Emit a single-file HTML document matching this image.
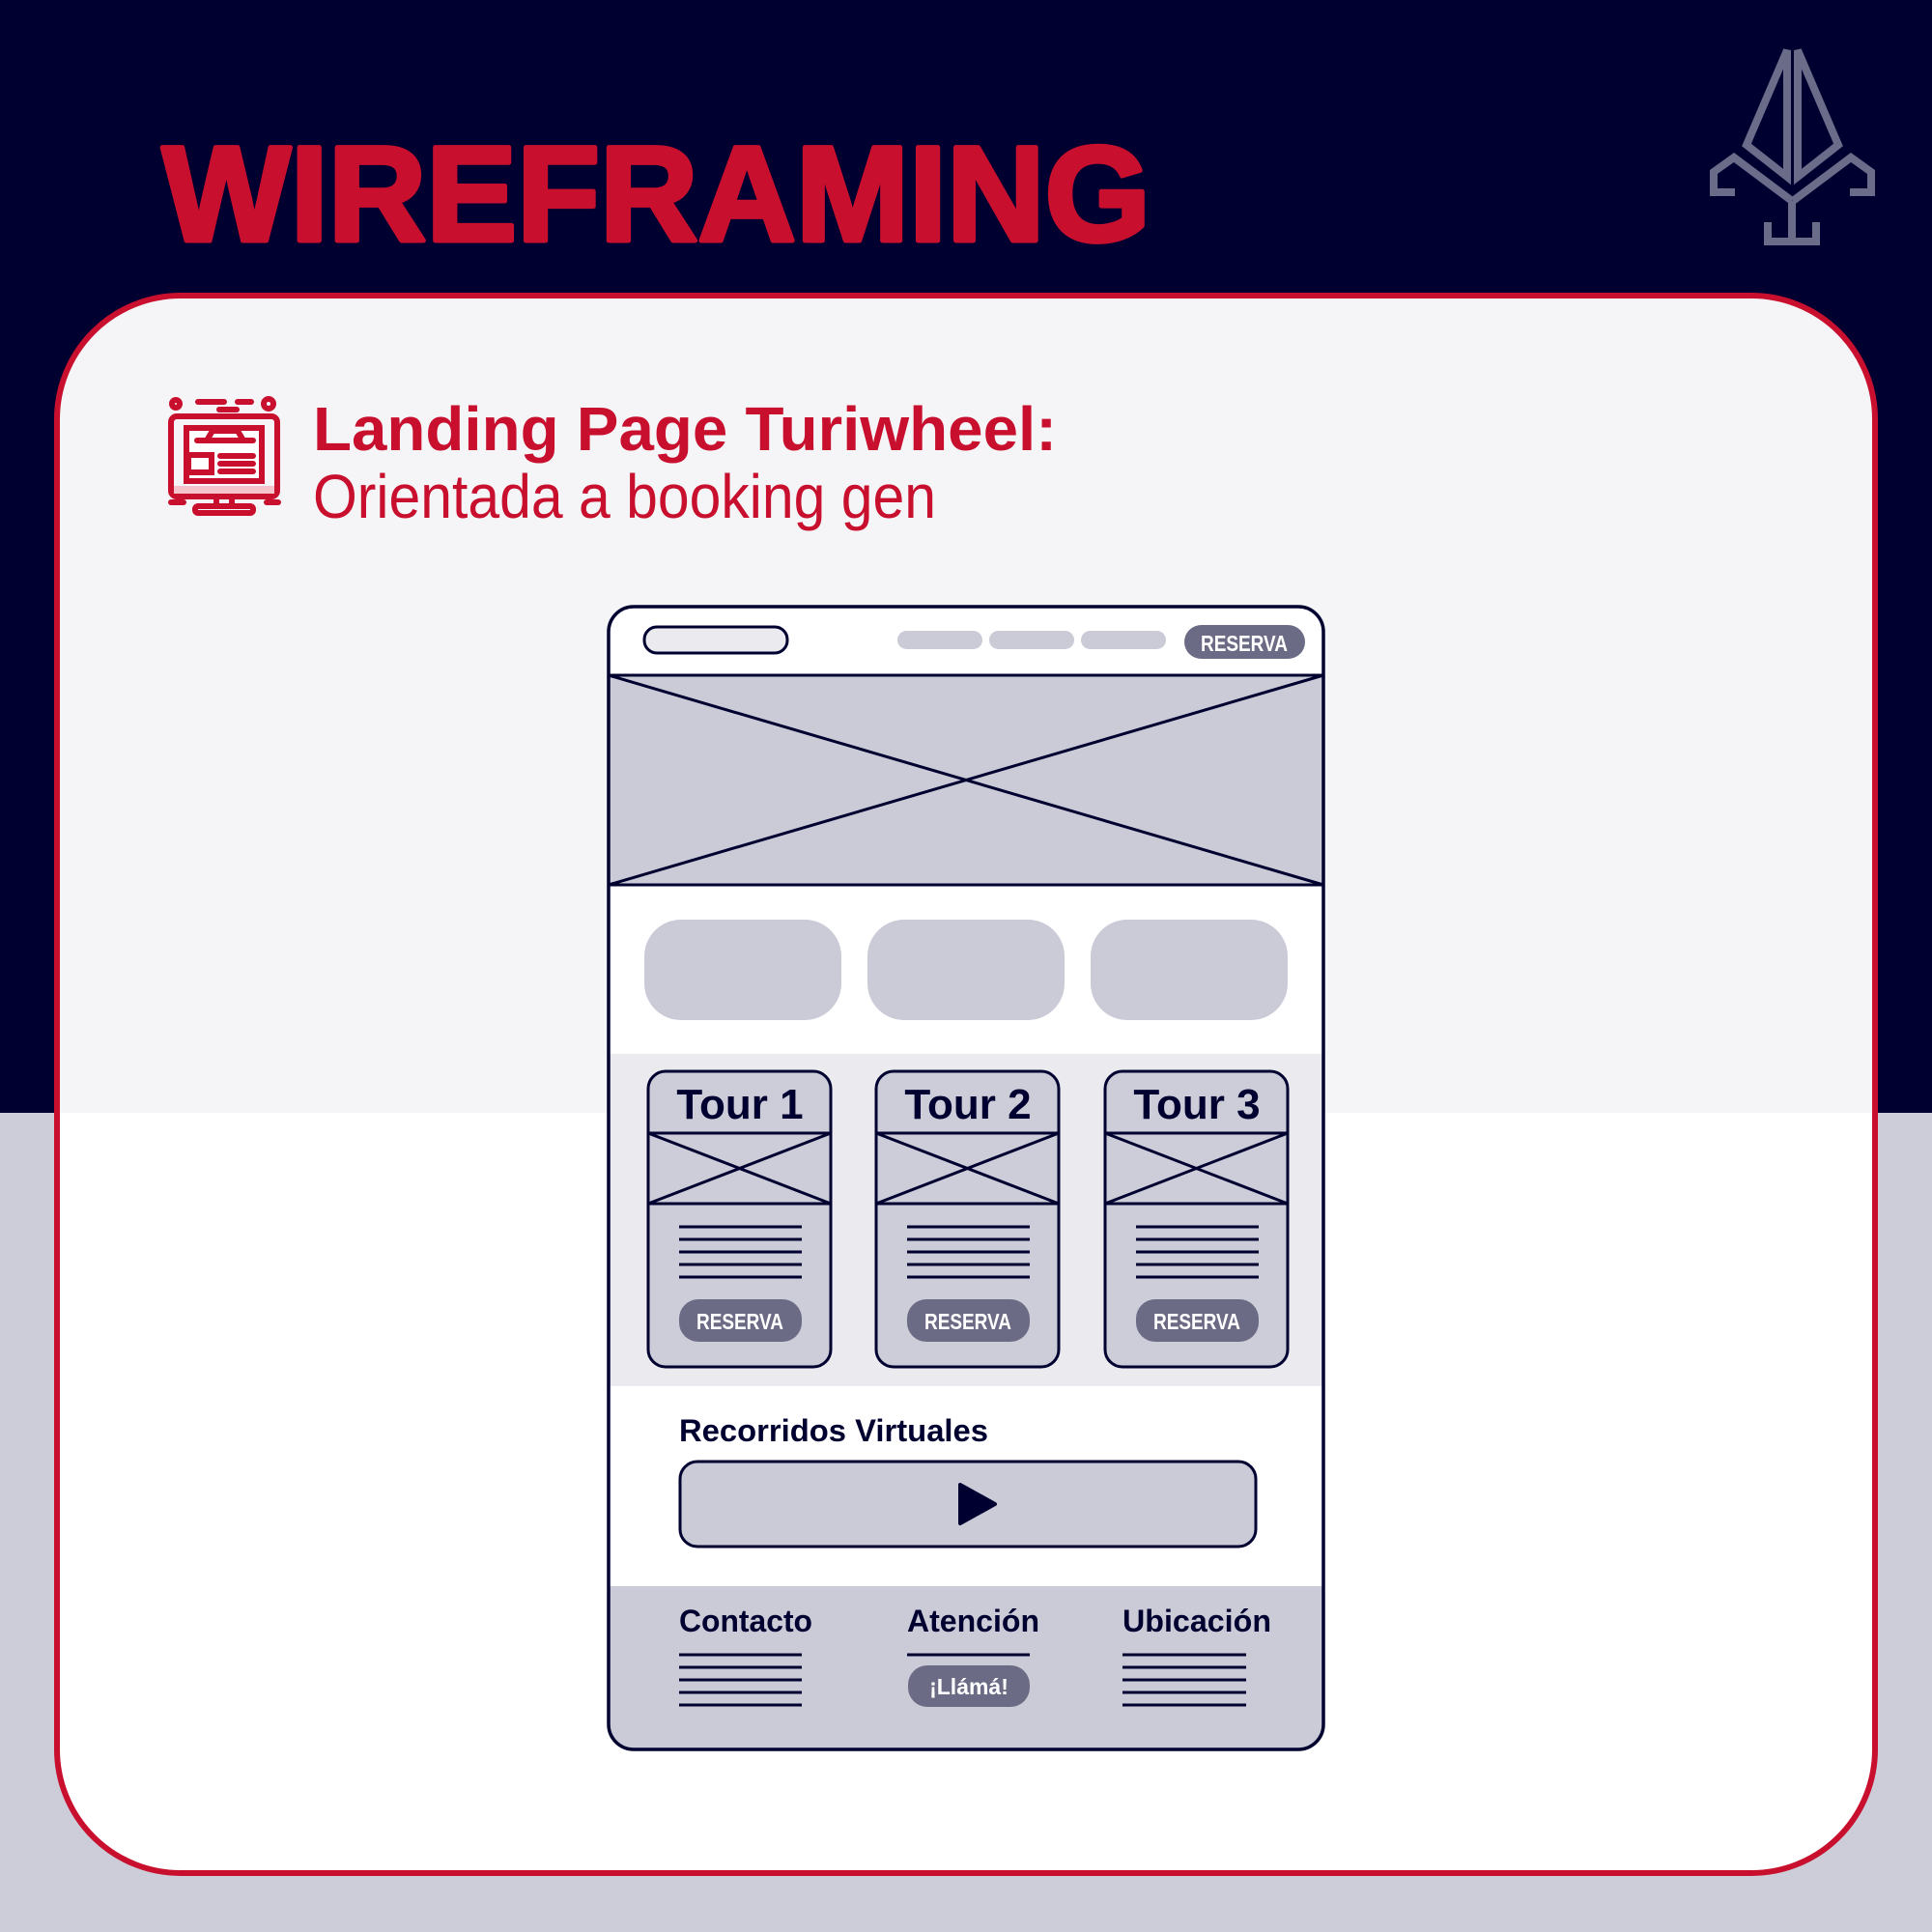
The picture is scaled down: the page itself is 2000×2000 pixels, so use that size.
<!DOCTYPE html>
<html><head><meta charset="utf-8"><style>
html,body{margin:0;padding:0;}
body{width:2000px;height:2000px;overflow:hidden;}
svg{display:block;}
text{font-family:"Liberation Sans",sans-serif;}
</style></head><body>
<svg width="2000" height="2000" viewBox="0 0 2000 2000" xmlns="http://www.w3.org/2000/svg">
<rect width="2000" height="1152" fill="#000030"/>
<rect y="1152" width="2000" height="848" fill="#cccdd8"/>
<defs><clipPath id="cc"><rect x="59" y="306" width="1882" height="1633" rx="128"/></clipPath></defs>
<g clip-path="url(#cc)">
<rect x="59" y="306" width="1882" height="1633" fill="#ffffff"/>
<rect x="59" y="306" width="1882" height="846" fill="#f5f5f7"/>
</g>
<rect x="59" y="306" width="1882" height="1633" rx="128" fill="none" stroke="#c8102e" stroke-width="6"/>
<text x="168" y="249" font-size="140" font-weight="bold" fill="#c8102e" stroke="#c8102e" stroke-width="5" stroke-linejoin="round" textLength="1023" lengthAdjust="spacingAndGlyphs">WIREFRAMING</text>
<g fill="none" stroke="#6b6b8a" stroke-width="8" stroke-linejoin="miter">
<path d="M1850 52 L1808 150 L1850 183 Z"/>
<path d="M1861 52 L1903 150 L1861 183 Z"/>
<path d="M1855 208 L1795 163 L1774 178 L1774 199 L1796 199"/>
<path d="M1856 208 L1916 163 L1937 178 L1937 199 L1915 199"/>
<path d="M1855 208 L1855 250 M1830 230 L1830 250 L1880 250 L1880 230"/>
</g>
<g fill="none" stroke="#c8102e" stroke-width="6" stroke-linecap="round">
<rect x="177" y="431" width="110" height="83" rx="6"/>
<rect x="193" y="443" width="78" height="55" fill="#fff"/>
<path d="M204 456 L262 456 M214 456 L220 446 L246 446 L252 456"/>
<rect x="195" y="471" width="24" height="18"/>
<path d="M228 472 L262 472 M228 480 L262 480 M228 488 L262 488"/>
<path d="M224 514 L224 524 M240 514 L240 524"/>
<rect x="202" y="524" width="60" height="7" rx="3"/>
<path d="M205 416 L232 416 M227 424 L245 424 M246 416 L260 416 M177 520 L190 520 M276 520 L288 520"/>
<circle cx="182" cy="418" r="4"/><circle cx="278" cy="418" r="5"/>
</g>
<rect x="180" y="503" width="104" height="8" fill="#f4c3cc"/>
<text x="324" y="466" font-size="64" font-weight="bold" fill="#c8102e" textLength="770" lengthAdjust="spacingAndGlyphs">Landing Page Turiwheel:</text>
<text x="324" y="536" font-size="64" fill="#c8102e" textLength="645" lengthAdjust="spacingAndGlyphs">Orientada a booking gen</text>
<defs><clipPath id="wc"><rect x="630" y="628" width="740" height="1183" rx="26"/></clipPath></defs>
<g clip-path="url(#wc)">
<rect x="630" y="628" width="740" height="1183" fill="#ffffff"/>
<rect x="630" y="699" width="740" height="217" fill="#cbcbd7"/>
<rect x="630" y="1091" width="740" height="344" fill="#ebebef"/>
<rect x="630" y="1642" width="740" height="169" fill="#cbcbd7"/>
</g>
<g stroke="#000030" stroke-width="3" fill="none">
<line x1="630" y1="699" x2="1370" y2="699"/>
<line x1="630" y1="916" x2="1370" y2="916"/>
<line x1="630" y1="699" x2="1370" y2="916"/>
<line x1="1370" y1="699" x2="630" y2="916"/>
</g>
<rect x="630" y="628" width="740" height="1183" rx="26" fill="none" stroke="#000030" stroke-width="3.5"/>
<rect x="667" y="649" width="148" height="27" rx="13" fill="#ebebef" stroke="#000030" stroke-width="3"/>
<rect x="929" y="653" width="88" height="19" rx="9.5" fill="#cbcbd7"/>
<rect x="1024" y="653" width="88" height="19" rx="9.5" fill="#cbcbd7"/>
<rect x="1119" y="653" width="88" height="19" rx="9.5" fill="#cbcbd7"/>
<rect x="1226" y="647" width="125" height="35" rx="17.5" fill="#6b6b85"/>
<text x="1288" y="674" font-size="23" font-weight="bold" fill="#fff" text-anchor="middle" textLength="90" lengthAdjust="spacingAndGlyphs">RESERVA</text>
<rect x="667" y="952" width="204" height="104" rx="38" fill="#cbcbd7"/>
<rect x="898" y="952" width="204" height="104" rx="38" fill="#cbcbd7"/>
<rect x="1129" y="952" width="204" height="104" rx="38" fill="#cbcbd7"/>
<g id="t1">
<rect x="671" y="1109" width="189" height="306" rx="18" fill="#cdcdd9" stroke="#000030" stroke-width="3"/>
<g stroke="#000030" stroke-width="3">
<line x1="671" y1="1173" x2="860" y2="1173"/><line x1="671" y1="1246" x2="860" y2="1246"/>
<line x1="671" y1="1173" x2="860" y2="1246"/><line x1="860" y1="1173" x2="671" y2="1246"/>
<line x1="703" y1="1270" x2="830" y2="1270"/><line x1="703" y1="1283" x2="830" y2="1283"/><line x1="703" y1="1296" x2="830" y2="1296"/><line x1="703" y1="1309" x2="830" y2="1309"/><line x1="703" y1="1322" x2="830" y2="1322"/>
</g>
<rect x="703" y="1345" width="127" height="44" rx="20" fill="#6b6b85"/>
</g>
<use href="#t1" x="236"/>
<use href="#t1" x="473"/>
<g font-size="44" font-weight="bold" fill="#000030" text-anchor="middle">
<text x="766" y="1158">Tour 1</text><text x="1002" y="1158">Tour 2</text><text x="1239" y="1158">Tour 3</text>
</g>
<g font-size="23" font-weight="bold" fill="#fff" text-anchor="middle">
<text x="766" y="1376" textLength="90" lengthAdjust="spacingAndGlyphs">RESERVA</text>
<text x="1002" y="1376" textLength="90" lengthAdjust="spacingAndGlyphs">RESERVA</text>
<text x="1239" y="1376" textLength="90" lengthAdjust="spacingAndGlyphs">RESERVA</text>
</g>
<text x="703" y="1492" font-size="32" font-weight="bold" fill="#000030" textLength="320" lengthAdjust="spacingAndGlyphs">Recorridos Virtuales</text>
<rect x="704" y="1513" width="596" height="88" rx="18" fill="#cbcbd7" stroke="#000030" stroke-width="3"/>
<path d="M994 1537 L1030 1557 L994 1577 Z" fill="#000030" stroke="#000030" stroke-width="4" stroke-linejoin="round"/>
<g font-size="32" font-weight="bold" fill="#000030">
<text x="703" y="1689" textLength="138" lengthAdjust="spacingAndGlyphs">Contacto</text>
<text x="939" y="1689" textLength="137" lengthAdjust="spacingAndGlyphs">Atención</text>
<text x="1162" y="1689" textLength="154" lengthAdjust="spacingAndGlyphs">Ubicación</text>
</g>
<g stroke="#000030" stroke-width="3">
<line x1="703" y1="1713" x2="830" y2="1713"/><line x1="703" y1="1726" x2="830" y2="1726"/><line x1="703" y1="1739" x2="830" y2="1739"/><line x1="703" y1="1752" x2="830" y2="1752"/><line x1="703" y1="1765" x2="830" y2="1765"/>
<line x1="1162" y1="1713" x2="1290" y2="1713"/><line x1="1162" y1="1726" x2="1290" y2="1726"/><line x1="1162" y1="1739" x2="1290" y2="1739"/><line x1="1162" y1="1752" x2="1290" y2="1752"/><line x1="1162" y1="1765" x2="1290" y2="1765"/>
<line x1="939" y1="1713" x2="1066" y2="1713"/>
</g>
<rect x="940" y="1724" width="126" height="43" rx="20" fill="#6b6b85"/>
<text x="1003" y="1754" font-size="23" font-weight="bold" fill="#fff" text-anchor="middle">¡Llámá!</text>
</svg>
</body></html>
